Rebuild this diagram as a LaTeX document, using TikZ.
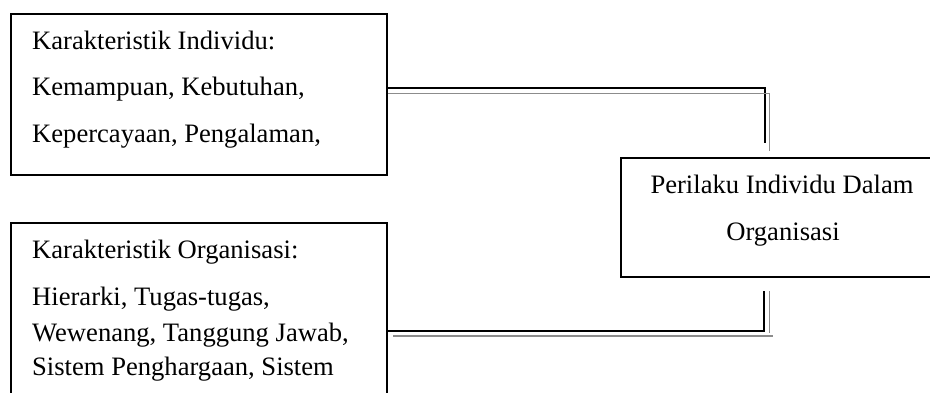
\documentclass[tikz,border=0pt]{standalone}
\usepackage{fontspec}
\setmainfont{Liberation Serif}
\begin{document}
\begin{tikzpicture}[x=1pt,y=-1pt,
  frame/.style={draw=black,line width=2pt,inner sep=0pt,outer sep=0pt},
  txt/.style={anchor=base west,inner sep=0pt,font=\fontsize{26.6}{30}\selectfont},
  ctxt/.style={anchor=base,inner sep=0pt,font=\fontsize{26.6}{30}\selectfont},
  linkdark/.style={draw=black,line width=1.8pt},
  linklight/.style={draw=black!45,line width=1.6pt}]
\useasboundingbox (0,0) rectangle (930,392);
\clip (0,0) rectangle (930,392);

% boxes
\node[frame,minimum width=376pt,minimum height=161pt] (indiv) at (199,94.5) {};
\node[frame,minimum width=376pt,minimum height=220pt] (org) at (199,333) {};
\node[frame,minimum width=330pt,minimum height=119pt] (perilaku) at (786,217.5) {};

% texts
\node[txt] (t1) at (32,49) {Karakteristik Individu:};
\node[txt] (t2) at (32,95) {Kemampuan, Kebutuhan,};
\node[txt] (t3) at (32,142) {Kepercayaan, Pengalaman,};
\node[txt] (t4) at (32,258) {Karakteristik Organisasi:};
\node[txt] (t5) at (32,305) {Hierarki, Tugas-tugas,};
\node[txt] (t6) at (32,341) {Wewenang, Tanggung Jawab,};
\node[txt] (t7) at (32,375) {Sistem Penghargaan, Sistem};
\node[ctxt] (p1) at (782,193) {Perilaku Individu Dalam};
\node[ctxt] (p2) at (783,240) {Organisasi};

% upper double connector
\coordinate (ua) at (indiv.east |- 0,88);
\coordinate (ub) at (765,88);
\coordinate (uc) at (765,143);
\coordinate (ud) at (388,93.3);
\coordinate (ue) at (769.3,93.3);
\coordinate (uf) at (769.3,150.5);
\draw[linkdark] (ua) -- (ub) -- (uc);
\draw[linklight] (ud) -- (ue) -- (uf);

% lower double connector
\coordinate (la) at (org.east |- 0,330.7);
\coordinate (lb) at (764.3,330.7);
\coordinate (lc) at (764.3,291);
\coordinate (ld) at (393,336);
\coordinate (le) at (773,336);
\coordinate (lf) at (769.3,291);
\coordinate (lg) at (769.3,332.7);
\draw[linkdark] (la) -- (lb) -- (lc);
\draw[linklight] (ld) -- (le);
\draw[linklight] (lf) -- (lg);
\end{tikzpicture}
\end{document}
